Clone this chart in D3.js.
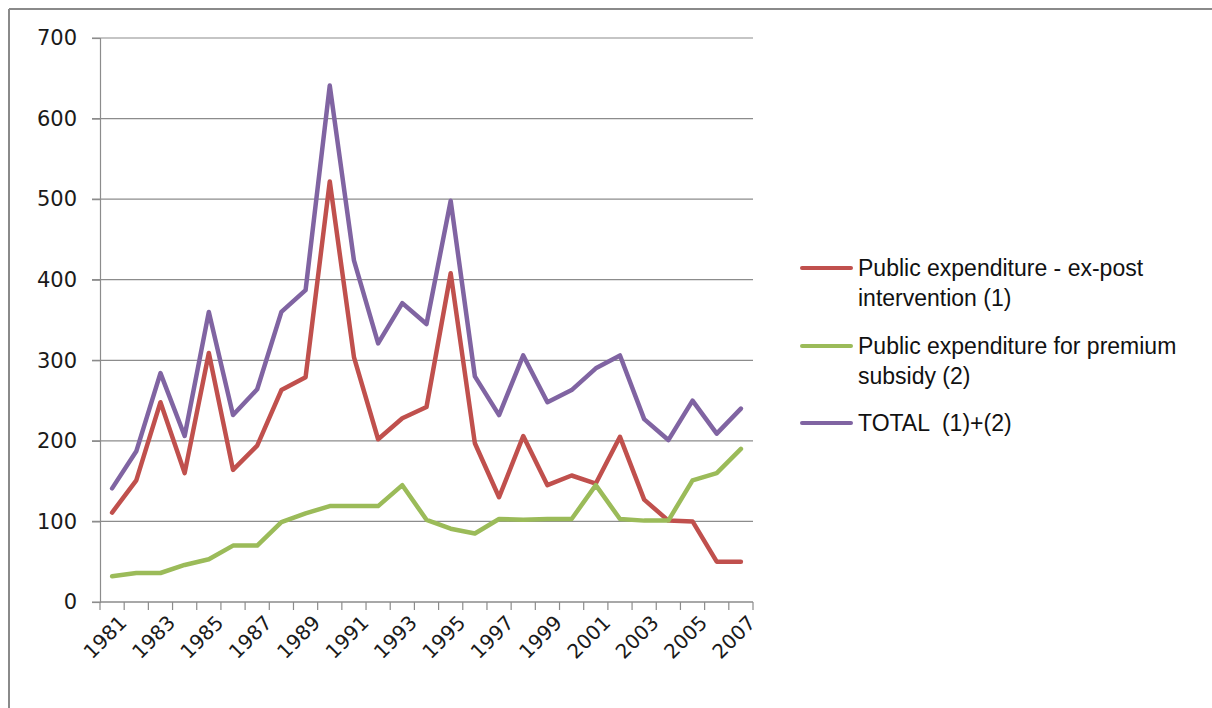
<!DOCTYPE html>
<html>
<head>
<meta charset="utf-8">
<script src="https://cdn.jsdelivr.net/npm/d3@7"></script>
<style>
  html, body { margin: 0; padding: 0; background: #fff; }
  svg { display: block; }
</style>
</head>
<body>
<svg id="chart" width="1212" height="708"></svg>
<script>
const years = [1981,1982,1983,1984,1985,1986,1987,1988,1989,1990,1991,1992,1993,1994,1995,1996,1997,1998,1999,2000,2001,2002,2003,2004,2005,2006,2007];
const exPost  = [111,151,248,160,309,164,194,263,279,522,304,202,228,242,408,197,130,206,145,157,147,205,127,101,100,50,50];
const premium = [32,36,36,46,53,70,70,99,110,119,119,119,145,102,91,85,103,102,103,103,145,103,101,101,151,160,190];
const total   = [141,187,284,206,360,232,264,360,387,641,424,321,371,345,498,280,232,306,248,263,290,306,227,201,250,209,240];
const yTicks = [0,100,200,300,400,500,600,700];
const xTickLabels = years.filter((y, i) => i % 2 === 0);
const seriesNames = ["Public expenditure - ex-post|intervention (1)", "Public expenditure for premium|subsidy (2)", "TOTAL  (1)+(2)"];
const seriesColors = ["#C0504D", "#9BBB59", "#8064A2"];
const seriesData = [exPost, premium, total];

const svg = d3.select("#chart");
const W = 1212, H = 708;
const m = {left: 100, right: 753, top: 38, bottom: 602};

// outer frame (top and left edges)
svg.append("line").attr("x1", 9).attr("x2", W).attr("y1", 9).attr("y2", 9)
  .attr("stroke", "#8a8a8a").attr("stroke-width", 2);
svg.append("line").attr("x1", 9).attr("x2", 9).attr("y1", 9).attr("y2", H)
  .attr("stroke", "#8a8a8a").attr("stroke-width", 2);

const x = d3.scaleBand().domain(years).range([m.left, m.right]).paddingInner(0).paddingOuter(0);
const y = d3.scaleLinear().domain([0, 700]).range([m.bottom, m.top]);

const gridColor = "#8c8c8c";

// gridlines
svg.append("g").selectAll("line").data(yTicks).join("line")
  .attr("x1", m.left - 8).attr("x2", m.right)
  .attr("y1", d => y(d)).attr("y2", d => y(d))
  .attr("stroke", gridColor).attr("stroke-width", 1.2);

// y axis
const yAxis = svg.append("g").attr("transform", `translate(${m.left},0)`)
  .call(d3.axisLeft(y).tickValues(yTicks).tickSize(8).tickPadding(15).tickFormat(d3.format("d")));
yAxis.select(".domain").attr("stroke", gridColor).attr("stroke-width", 1.2);
yAxis.selectAll(".tick line").attr("stroke", gridColor).attr("stroke-width", 1.2);
yAxis.selectAll("text").attr("font-family", "DejaVu Sans").attr("font-size", 21).attr("fill", "#1a1a1a");

// x axis with ticks at category boundaries
const xAxisG = svg.append("g");
xAxisG.append("line").attr("x1", m.left).attr("x2", m.right).attr("y1", m.bottom).attr("y2", m.bottom)
  .attr("stroke", gridColor).attr("stroke-width", 1.2);
const boundaries = years.map(d => x(d)).concat([x(years[years.length - 1]) + x.bandwidth()]);
xAxisG.selectAll("line.tk").data(boundaries).join("line").attr("class", "tk")
  .attr("x1", d => d).attr("x2", d => d).attr("y1", m.bottom).attr("y2", m.bottom + 8)
  .attr("stroke", gridColor).attr("stroke-width", 1.2);
xAxisG.selectAll("text").data(xTickLabels).join("text")
  .attr("transform", d => `translate(${x(d) + x.bandwidth() / 2 + 11},${m.bottom + 17}) rotate(-45)`)
  .attr("text-anchor", "end").attr("dy", "0.35em")
  .attr("font-family", "DejaVu Sans").attr("font-size", 20).attr("fill", "#1a1a1a")
  .text(d => d);

// lines
const line = d3.line().x((d, i) => x(years[i]) + x.bandwidth() / 2).y(d => y(d));
svg.append("g").selectAll("path").data(seriesData).join("path")
  .attr("d", d => line(d))
  .attr("fill", "none")
  .attr("stroke", (d, i) => seriesColors[i])
  .attr("stroke-width", 4.5)
  .attr("stroke-linejoin", "round")
  .attr("stroke-linecap", "round");

// legend
const legendY = [268, 346, 423];
const lg = svg.append("g");
seriesNames.forEach((name, i) => {
  lg.append("line").attr("x1", 802).attr("x2", 851).attr("y1", legendY[i]).attr("y2", legendY[i])
    .attr("stroke", seriesColors[i]).attr("stroke-width", 4).attr("stroke-linecap", "round");
  const t = lg.append("text").attr("x", 858).attr("y", legendY[i])
    .attr("font-family", "Liberation Sans").attr("font-size", 23).attr("fill", "#111")
    .style("white-space", "pre");
  name.split("|").forEach((part, j) => {
    t.append("tspan").attr("x", 858).attr("dy", j === 0 ? "0.35em" : "30px").text(part);
  });
});
</script>
</body>
</html>
